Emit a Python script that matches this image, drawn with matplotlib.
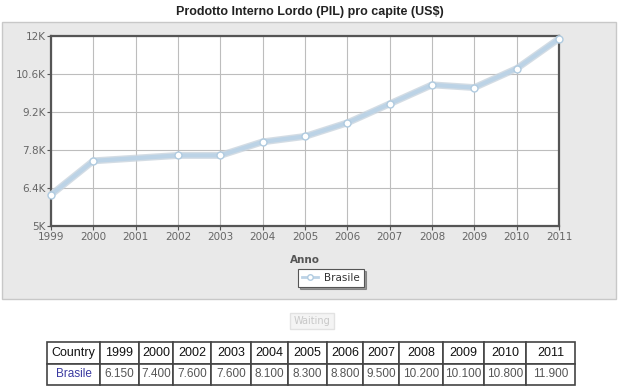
import matplotlib
matplotlib.use("Agg")
import matplotlib.pyplot as plt
from matplotlib.patches import Rectangle
from matplotlib.lines import Line2D

years = [1999, 2000, 2002, 2003, 2004, 2005, 2006, 2007, 2008, 2009, 2010, 2011]
pil = [6150, 7400, 7600, 7600, 8100, 8300, 8800, 9500, 10200, 10100, 10800, 11900]
y_ticks = [5000, 6400, 7800, 9200, 10600, 12000]
y_labels = ["5K", "6.4K", "7.8K", "9.2K", "10.6K", "12K"]
x_ticks = list(range(1999, 2012))
table_vals = ["6.150", "7.400", "7.600", "7.600", "8.100", "8.300", "8.800",
              "9.500", "10.200", "10.100", "10.800", "11.900"]

W, H = 620, 391
fig = plt.figure(figsize=(6.2, 3.91), dpi=100)
fig.patch.set_facecolor("white")

def fx(px): return px / W
def fy(py): return 1 - py / H

# grey chart panel (behind the axes)
fig.add_artist(Rectangle((fx(2), fy(299)), fx(614), 277 / H, transform=fig.transFigure,
                         facecolor="#e9e9e9", edgecolor="#c8c8c8", lw=1, zorder=-10))

fig.text(0.5, fy(12), "Prodotto Interno Lordo (PIL) pro capite (US$)", ha="center", va="center",
         fontsize=9, fontweight="bold", color="#222222", family="Liberation Sans")

ax = fig.add_axes([fx(51), fy(226), fx(508), 190 / H])
ax.set_facecolor("white")
ax.plot(years, pil, color="#c9d4de", lw=5, solid_capstyle="round", zorder=3, clip_on=False,
        alpha=0.8)
ax.plot(years, pil, color="#bcd3e6", lw=3, marker="o", ms=5, mfc="white", mec="#b0cbe0",
        mew=1, zorder=4, clip_on=False)
ax.set_xlim(1999, 2011)
ax.set_ylim(5000, 12000)
ax.set_xticks(x_ticks)
ax.set_xticklabels([str(x) for x in x_ticks])
ax.set_yticks(y_ticks)
ax.set_yticklabels(y_labels)
ax.grid(True, color="#bdbdbd", lw=0.8)
ax.set_axisbelow(True)
ax.tick_params(length=3, width=0.8, color="#555555", labelsize=7.5, labelcolor="#666666", pad=1)
for s in ax.spines.values():
    s.set_color("#555555")
    s.set_linewidth(1.6)
ax.set_xlabel("Anno", fontsize=7.5, fontweight="bold", color="#555555", labelpad=10)

handle = Line2D([], [], color="#bcd3e6", lw=2, marker="o", ms=4, mfc="white", mec="#b0cbe0")
leg = fig.legend([handle], ["Brasile"], loc="center", bbox_to_anchor=(fx(331), fy(278)),
                 fontsize=7.5, frameon=True, fancybox=False, shadow={"ox": 1.5, "oy": -1.5, "alpha": 0.5},
                 handlelength=1.5, borderpad=0.4, handletextpad=0.6)
leg.get_frame().set_edgecolor("#555555")
leg.get_frame().set_linewidth(0.8)
for t in leg.get_texts():
    t.set_color("#333333")

fig.text(fx(312), fy(321), "Waiting", ha="center", va="center", fontsize=7, color="#c8c8c8",
         bbox=dict(boxstyle="square,pad=0.35", facecolor="#f4f4f4", edgecolor="#e2e2e2"))

# data table
tax = fig.add_axes([fx(47), fy(385), fx(528), 43 / H])
tax.axis("off")
widths = [140, 102, 91, 100, 105, 99, 103, 95, 95, 115, 110, 110, 130]
tot = sum(widths)
tbl = tax.table(cellText=[["Brasile"] + table_vals],
                colLabels=["Country"] + [str(y) for y in years],
                colWidths=[w / tot for w in widths], bbox=[0, 0, 1, 1], cellLoc="center")
tbl.auto_set_font_size(False)
for (r, c), cell in tbl.get_celld().items():
    cell.set_edgecolor("#444444")
    cell.set_linewidth(1.2)
    cell.get_text().set_family("Liberation Sans")
    if r == 0:
        cell.get_text().set_fontsize(9)
        cell.get_text().set_color("#111111")
    else:
        cell.get_text().set_fontsize(8.5)
        cell.get_text().set_color("#3a3aa0" if c == 0 else "#555555")

fig.savefig("out.png", dpi=100)
